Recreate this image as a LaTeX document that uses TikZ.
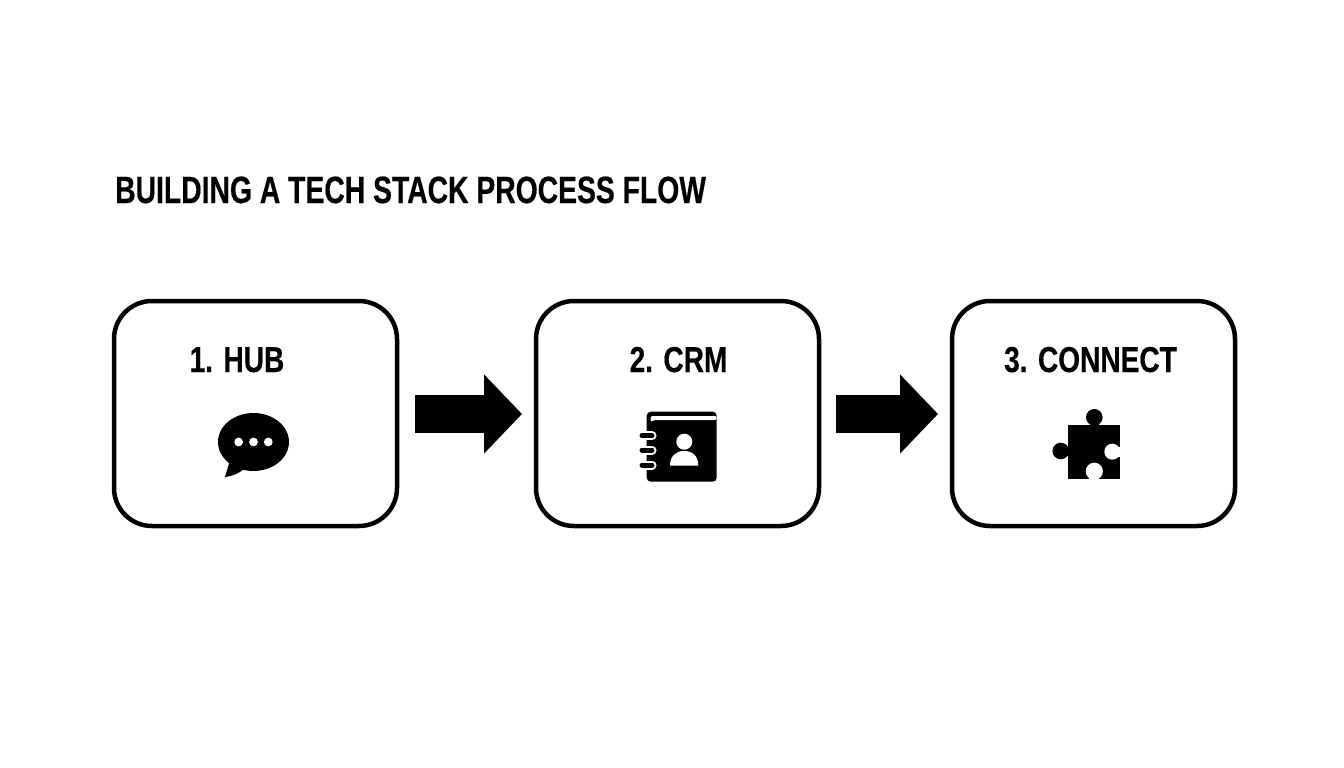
\documentclass[tikz,border=0pt]{standalone}
\usepackage{fontspec}
\setmainfont{Liberation Sans}
\newfontfamily\headfont{Liberation Sans Bold}[FakeStretch=0.745,FakeBold=0.4]
\newfontfamily\labelfont{Liberation Sans Bold}[FakeStretch=0.78,FakeBold=0.4]
\usetikzlibrary{arrows.meta}
\tikzset{
  x=1pt,y=-1pt,
  stage/.style={draw=black,line width=4.5pt,rounded corners=38pt,minimum width=283pt,minimum height=225pt,inner sep=0pt,fill=white},
  heading/.style={anchor=base west,inner sep=0pt,font=\fontsize{38}{38}\selectfont\headfont},
  stagelabel/.style={anchor=base,inner sep=0pt,font=\fontsize{36}{36}\selectfont\labelfont},
  blockarrow/.style={draw=black,line width=38pt,-{Triangle[length=38pt,width=77pt,sep=0pt]}},
}
\begin{document}
\begin{tikzpicture}
\useasboundingbox (0,0) rectangle (1344,768);
\fill[white] (0,0) rectangle (1344,768);
\node[heading] (title) at (115,203) {BUILDING A TECH STACK PROCESS FLOW};
\node[stage] (hub) at (255.5,413.5) {};
\node[stage] (crm) at (677.5,413.5) {};
\node[stage] (connect) at (1093.5,413.5) {};
\node[stagelabel] (l1) at (237,372) {1. HUB};
\node[stagelabel] (l2) at (678.5,372) {2. CRM};
\node[stagelabel] (l3) at (1090.5,372) {3. CONNECT};
\draw[blockarrow,shorten <=15.75pt,shorten >=11.75pt] ([yshift=-0.5pt]hub.east) -- ([yshift=-0.5pt]crm.west);
\draw[blockarrow,shorten <=14.75pt,shorten >=11.75pt] ([yshift=-0.5pt]crm.east) -- ([yshift=-0.5pt]connect.west);
% chat bubble
\fill (253.5,442) ellipse [x radius=35.5,y radius=29];
\fill (230,460) -- (225,477) .. controls (233,476) and (240,473) .. (245,468) -- cycle;
\fill[white] (238.7,442) circle [radius=4.4] (253.5,442) circle [radius=4.4] (268.3,442) circle [radius=4.4];
% address book
\fill[rounded corners=4pt] (646.7,411.7) rectangle (716.7,481.7);
\fill[white,rounded corners=2pt] (650.7,416) -- (716.7,416) -- (716.7,420) -- (653,420) -- (650.7,422) -- cycle;
\foreach \ry in {435.7,450,465}{
  \draw[white,line width=9pt,line cap=round] (642,\ry) -- (652,\ry);
  \draw[black,line width=5pt,line cap=round] (642,\ry) -- (652,\ry);
}
\fill[white] (684.3,441.7) circle [radius=8];
\fill[white] (670,465.7) .. controls (670,456) and (676,451) .. (684,451) .. controls (692.5,451) and (698.3,456) .. (698.3,465.7) -- cycle;
% puzzle piece
\fill (1068.3,425) rectangle (1120,479);
\fill (1094.3,417.3) circle [radius=8.3];
\fill (1089.8,420) rectangle (1098.8,427);
\fill (1060.7,451) circle [radius=8.3];
\fill (1063,446.5) rectangle (1070,455.5);
\fill[white] (1112.3,451.7) circle [radius=8];
\fill[white] (1113,447) rectangle (1121.5,456.5);
\fill[white] (1094.3,471.3) circle [radius=8.6];
\fill[white] (1089.3,472) rectangle (1099.3,480.5);
\end{tikzpicture}
\end{document}
